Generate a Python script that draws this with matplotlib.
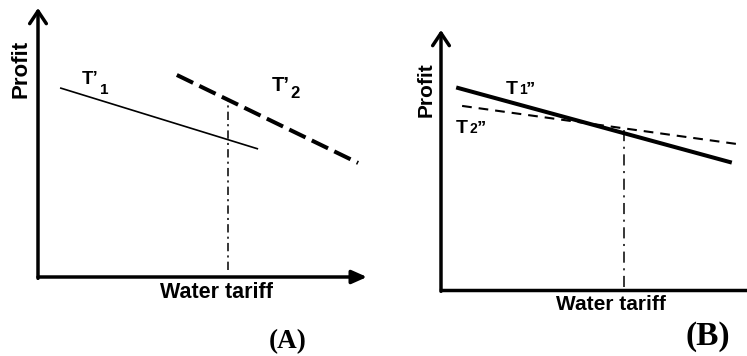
import matplotlib
matplotlib.use("Agg")
import matplotlib.pyplot as plt

# figure size in pixels
W, H = 747, 356

# panel A (tariff / profit in arbitrary units 0-10)
a_t1_x = [0.67, 6.69]
a_t1_y = [7.03, 4.76]
a_t2_x = [4.22, 9.73]
a_t2_y = [7.51, 4.24]
a_vline_x = 5.78
a_vline_y = [0.26, 6.58]

# panel B
b_t1_x = [0.56, 9.44]
b_t1_y = [7.77, 4.92]
b_t2_x = [0.69, 9.64]
b_t2_y = [7.08, 5.62]
b_vline_x = 5.98
b_vline_y = [0.12, 6.15]

plt.rcParams['font.family'] = ['Liberation Sans', 'DejaVu Sans']
plt.rcParams['lines.scale_dashes'] = False

fig = plt.figure(figsize=(W / 100, H / 100), dpi=100)


def panel_axes(left, axis_y, right, top):
    # rectangle given in pixels (y measured from top of image)
    ax = fig.add_axes([left / W, (H - axis_y) / H, (right - left) / W, (axis_y - top) / H])
    ax.set_xlim(0, 10)
    ax.set_ylim(0, 10)
    ax.axis('off')
    return ax


def ftext(x, y, s, **kw):
    # place text in pixel coords (y from top)
    fig.text(x / W, 1 - y / H, s, **kw)


# ---- panel A ----
axA = panel_axes(38, 277, 367, 8)
axA.annotate('', xy=(0, 10), xytext=(0, -0.05),
             arrowprops=dict(arrowstyle='->,head_length=0.45,head_width=0.3', lw=2.5,
                             color='k', shrinkA=0, shrinkB=0, mutation_scale=20))
axA.annotate('', xy=(10, 0), xytext=(0, 0),
             arrowprops=dict(arrowstyle='-|>,head_length=0.45,head_width=0.2', lw=2.5,
                             color='k', shrinkA=0, shrinkB=0, mutation_scale=20))
axA.plot(a_t1_x, a_t1_y, color='k', lw=1.2, solid_capstyle='butt')
axA.plot(a_t2_x, a_t2_y, color='k', lw=2.9, dashes=(13, 5))
axA.plot([a_vline_x, a_vline_x], a_vline_y, color='k', lw=1.1, dashes=(6, 3, 1.5, 3))

ftext(21, 69, 'Profit', rotation=90, ha='center', va='center', fontsize=16, fontweight='bold')
ftext(217, 292, 'Water tariff', ha='center', va='center', fontsize=15.5, fontweight='bold')
ftext(82, 84, 'T\u2019', ha='left', va='baseline', fontsize=13.5, fontweight='bold')
ftext(100, 94, '1', ha='left', va='baseline', fontsize=11, fontweight='bold')
ftext(272, 91, 'T\u2019', ha='left', va='baseline', fontsize=14.5, fontweight='bold')
ftext(290, 98, '2', ha='left', va='baseline', fontsize=12, fontweight='bold')
ftext(288, 342, '(A)', ha='center', va='center', fontsize=19.5, fontweight='bold',
      family='Liberation Serif')

# ---- panel B ----
axB = panel_axes(441, 290, 747, 30)
axB.annotate('', xy=(0, 10), xytext=(0, -0.05),
             arrowprops=dict(arrowstyle='->,head_length=0.45,head_width=0.3', lw=2.5,
                             color='k', shrinkA=0, shrinkB=0, mutation_scale=20))
axB.plot([0, 10.2], [0, 0], color='k', lw=2.5, clip_on=False)
axB.plot(b_t1_x, b_t1_y, color='k', lw=2.9)
axB.plot(b_t2_x, b_t2_y, color='k', lw=1.5, dashes=(7, 5))
axB.plot([b_vline_x, b_vline_x], b_vline_y, color='k', lw=1.1, dashes=(8, 4, 1.5, 4))

ftext(426, 90, 'Profit', rotation=90, ha='center', va='center', fontsize=15, fontweight='bold')
ftext(611, 304, 'Water tariff', ha='center', va='center', fontsize=15, fontweight='bold')
ftext(506, 94, 'T', ha='left', va='baseline', fontsize=14, fontweight='bold')
ftext(519, 94, '1', ha='left', va='baseline', fontsize=10, fontweight='bold')
ftext(526, 94, '\u2019\u2019', ha='left', va='baseline', fontsize=14, fontweight='bold')
ftext(456, 133, 'T', ha='left', va='baseline', fontsize=14, fontweight='bold')
ftext(469, 133, '2', ha='left', va='baseline', fontsize=10, fontweight='bold')
ftext(477, 133, '\u2019\u2019', ha='left', va='baseline', fontsize=14, fontweight='bold')
ftext(708, 336, '(B)', ha='center', va='center', fontsize=24, fontweight='bold',
      family='Liberation Serif')

fig.savefig('out.png', dpi=100)
